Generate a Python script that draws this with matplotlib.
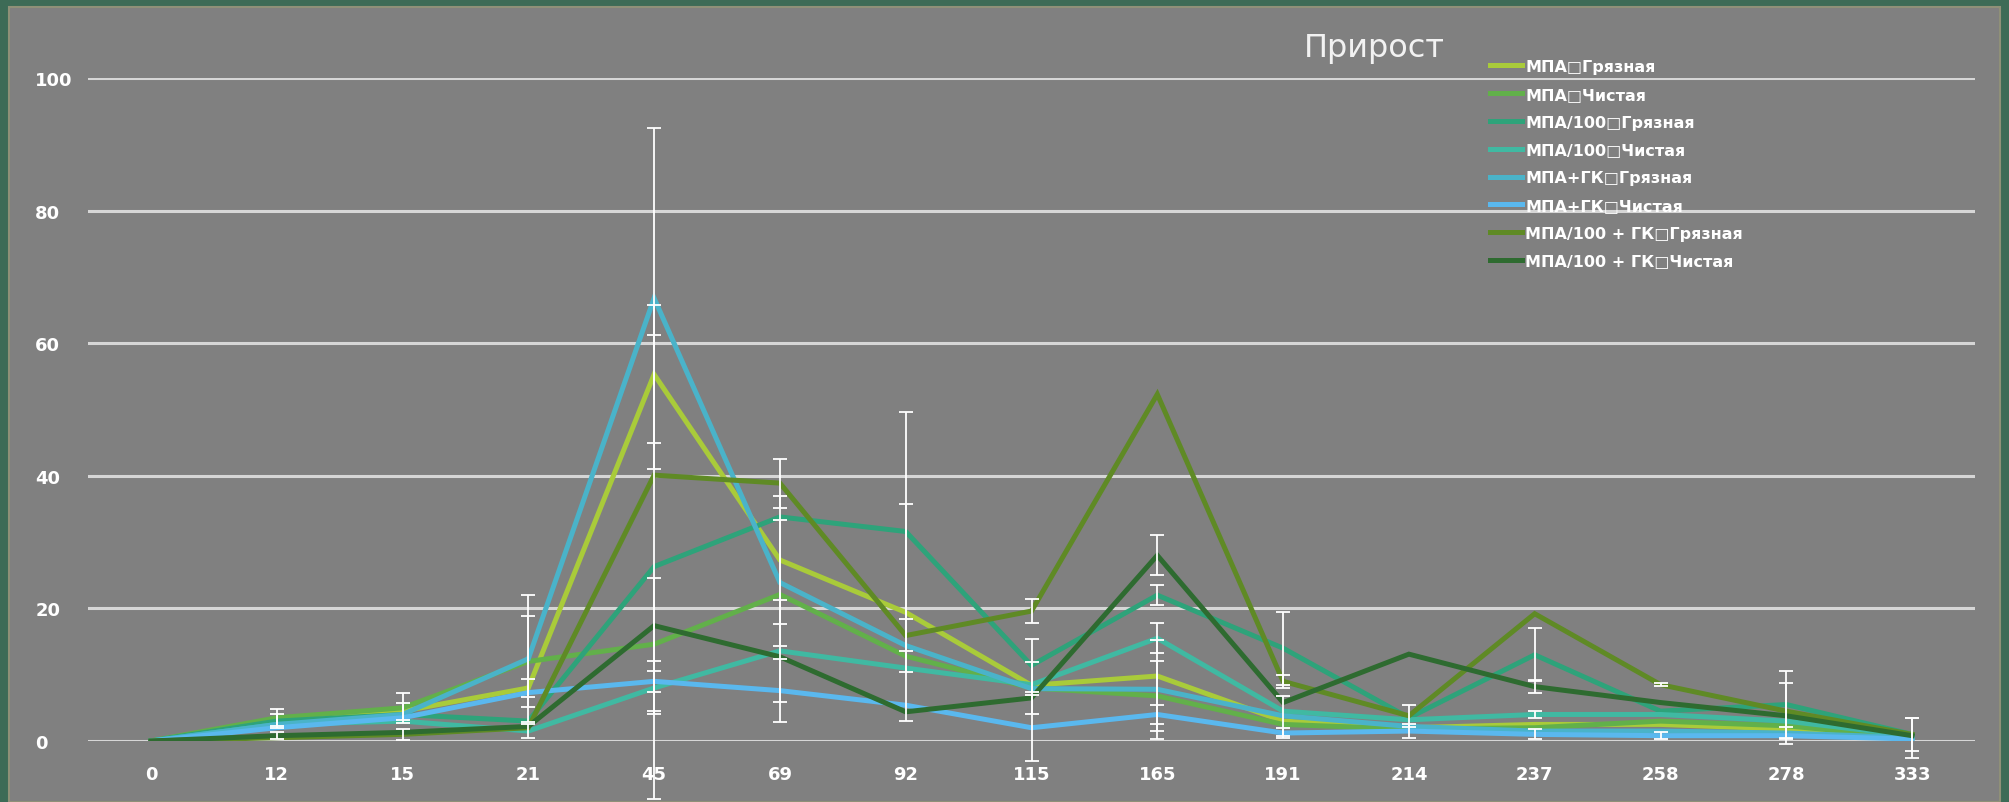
import numpy as np
import matplotlib
matplotlib.use("Agg")
from matplotlib import pyplot as plt
from matplotlib.patches import Rectangle
from matplotlib.lines import Line2D

plt.rcParams['font.family'] = ['DejaVu Sans']

# categories (days)
days = ['0', '12', '15', '21', '45', '69', '92', '115', '165', '191', '214', '237', '258', '278', '333']

labels = ['МПА\u25a1Грязная', 'МПА\u25a1Чистая', 'МПА/100\u25a1Грязная', 'МПА/100\u25a1Чистая',
          'МПА+ГК\u25a1Грязная', 'МПА+ГК\u25a1Чистая', 'МПА/100 + ГК\u25a1Грязная', 'МПА/100 + ГК\u25a1Чистая']

mpa_dirty = [0, 3, 4.5, 8, 55.3, 27.3, 19.4, 8.4, 9.8, 3, 2, 2.5, 2.5, 1.8, 0.5]
mpa_clean = [0, 3.5, 5, 12, 14.6, 22.1, 12.8, 8, 6.8, 2.5, 1.8, 2, 3, 2.3, 0.5]
mpa100_dirty = [0, 3, 4, 3, 26.3, 33.8, 31.6, 11.4, 22, 14, 3.5, 13, 4.5, 5.5, 1]
mpa100_clean = [0, 2.5, 3, 1.5, 8, 13.6, 11, 8.5, 15.5, 4.5, 3.2, 4, 4, 3, 0.8]
gk_dirty = [0, 2.5, 4, 12.4, 66.8, 23.9, 14.4, 7.9, 7.8, 3.8, 2.2, 1.5, 1.5, 1.2, 0.5]
gk_clean = [0, 2, 3.5, 7.3, 9, 7.6, 5.4, 2, 4, 1.2, 1.5, 1, 0.8, 0.8, 0.3]
mpa100gk_dirty = [0, 0.5, 1, 2, 40.1, 38.9, 15.9, 19.6, 52.3, 9, 3.8, 19.2, 8.5, 4.5, 1]
mpa100gk_clean = [0, 0.8, 1.3, 2.2, 17.4, 12.7, 4.4, 6.5, 28, 5.8, 13.1, 8.2, 5.8, 3.8, 0.8]

# standard deviations (0 = no bar visible)
err_mpa_dirty = [0, 1, 1.3, 1.3, 10.4, 9.6, 16.4, 0, 0, 0, 0, 0, 0, 0, 0]
err_mpa_clean = [0, 1.3, 2.3, 6.9, 10, 0, 0, 3.9, 5.3, 0, 0, 0, 0, 0, 0]
err_mpa100_dirty = [0, 0, 0, 0, 35, 0, 18, 4, 1.5, 5.5, 0, 4, 0, 5, 2.5]
err_mpa100_clean = [0, 0, 0, 1, 4, 7.7, 0, 0, 2.25, 0, 0, 0.5, 0, 0, 0]
err_gk_dirty = [0, 0, 0, 9.6, 25.7, 9.5, 4, 0, 7.5, 3, 0, 0, 0, 0, 3]
err_gk_clean = [0, 0, 0, 0, 1.6, 4.7, 0, 5, 1.5, 0.7, 1, 0.75, 0.5, 1.3, 0]
err_mpa100gk_dirty = [0, 0, 0.8, 0, 0, 3.7, 0, 1.8, 0, 1, 1.7, 0, 0.25, 4.25, 0]
err_mpa100gk_clean = [0, 0.55, 0, 0, 0, 0, 0, 0, 3, 0, 0, 1, 0, 0, 0]

series = [mpa_dirty, mpa_clean, mpa100_dirty, mpa100_clean, gk_dirty, gk_clean, mpa100gk_dirty, mpa100gk_clean]
errors = [err_mpa_dirty, err_mpa_clean, err_mpa100_dirty, err_mpa100_clean, err_gk_dirty, err_gk_clean,
          err_mpa100gk_dirty, err_mpa100gk_clean]
colors = ['#a9cb3a', '#62b04a', '#2ea37a', '#40b9a2', '#4ab3c9', '#5ab8ee', '#5f8a25', '#2e6b30']

fig = plt.figure(figsize=(20.09, 8.03), dpi=100, facecolor='#3d6b56')
fig.patches.append(Rectangle((9 / 2009, 0), 1991 / 2009, 795 / 803, transform=fig.transFigure,
                             facecolor='#808080', edgecolor='#8f9078', lw=1.5, zorder=-1))

ax = fig.add_axes([88 / 2009, 61 / 803, 1887 / 2009, 663 / 803])
ax.set_facecolor('none')
x = np.arange(len(days))

for ys, er, c in zip(series, errors, colors):
    ax.plot(x, ys, color=c, lw=3.6, solid_joinstyle='miter', zorder=3)
    mask = np.array(er) > 0
    eb = ax.errorbar(x[mask], np.array(ys)[mask], yerr=np.array(er)[mask], fmt='none',
                     ecolor='white', elinewidth=1.3, capsize=5, capthick=1.3, zorder=4)
    for a in eb.lines[1] + eb.lines[2]:
        a.set_clip_on(False)

ax.set_xlim(-0.5, len(days) - 0.5)
ax.set_ylim(0, 100)
ax.set_yticks(range(0, 101, 20))
ax.set_xticks(x)
ax.set_xticklabels(days)
ax.yaxis.grid(True, color='#d6d6d6', lw=2.2, zorder=1)
ax.set_axisbelow(True)
for s in ax.spines.values():
    s.set_visible(False)
ax.tick_params(axis='both', length=0, colors='white', labelsize=13)
ax.tick_params(axis='x', pad=17)
ax.tick_params(axis='y', pad=38)
for t in ax.get_yticklabels():
    t.set_horizontalalignment('left')
for t in ax.get_xticklabels() + ax.get_yticklabels():
    t.set_fontweight('bold')

fig.text(1374 / 2009, 1 - 49 / 803, 'Прирост', color='#f2f2f2', fontsize=23, ha='center', va='center')

handles = [Line2D([0], [0], color=c, lw=3.6) for c in colors]
fig.legend(handles, labels, loc='upper left', bbox_to_anchor=(1490 / 2009, 1 - 60 / 803),
           frameon=False, borderpad=0, borderaxespad=0, handlelength=2.0, handletextpad=0.2,
           labelspacing=0.8, prop={'size': 11.5, 'weight': 'bold'}, labelcolor='white')

fig.savefig('out.png', dpi=100, facecolor=fig.get_facecolor())
